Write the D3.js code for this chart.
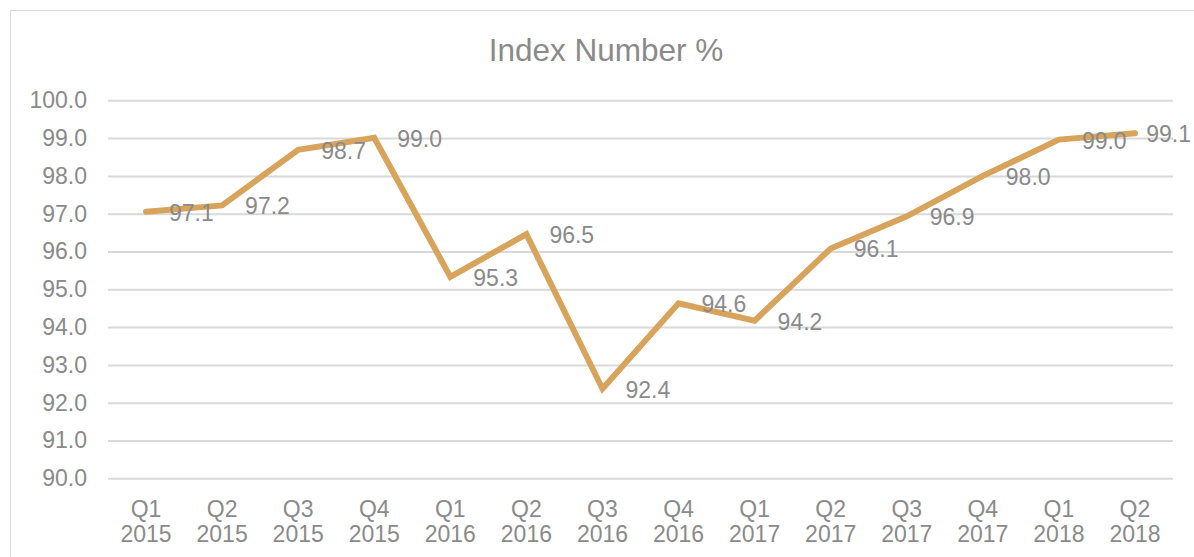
<!DOCTYPE html>
<html>
<head>
<meta charset="utf-8">
<script src="https://cdn.jsdelivr.net/npm/d3@7"></script>
<style>
  body { margin: 0; background: #fff; }
  text { font-family: "Liberation Sans", Arial, sans-serif; }
</style>
</head>
<body>
<div id="chart"></div>
<script>
// data
var quarters = ["Q1", "Q2", "Q3", "Q4", "Q1", "Q2", "Q3", "Q4", "Q1", "Q2", "Q3", "Q4", "Q1", "Q2"];
var years = ["2015", "2015", "2015", "2015", "2016", "2016", "2016", "2016", "2017", "2017", "2017", "2017", "2018", "2018"];
var values = [97.05, 97.22, 98.69, 99.01, 95.33, 96.46, 92.37, 94.63, 94.17, 96.08, 96.93, 98.0, 98.96, 99.13];
var labels = ["97.1", "97.2", "98.7", "99.0", "95.3", "96.5", "92.4", "94.6", "94.2", "96.1", "96.9", "98.0", "99.0", "99.1"];
var yTicks = [90, 91, 92, 93, 94, 95, 96, 97, 98, 99, 100];

var width = 1194;
var height = 557;
var margin = {top: 100, right: 21, bottom: 79, left: 108};
var textColor = "#8a8a8a";
var lineColor = "#d8a45c";
var fs = 23;

var svg = d3.select("#chart")
      .append("svg")
      .attr("width", width)
      .attr("height", height);

// chart border (right and bottom edges run past the picture)
svg.append("rect")
   .attr("x", 10.5)
   .attr("y", 10.5)
   .attr("width", 1200)
   .attr("height", 560)
   .attr("fill", "none")
   .attr("stroke", "#d9d9d9")
   .attr("stroke-width", 1);

svg.append("text")
   .attr("x", 606)
   .attr("y", 61)
   .attr("text-anchor", "middle")
   .attr("font-size", 31.5)
   .attr("fill", textColor)
   .text("Index Number %");

var idx = d3.range(values.length);

var x = d3.scaleBand()
    .domain(idx)
    .range([margin.left, width - margin.right]);

var y = d3.scaleLinear()
    .domain([90, 100])
    .range([478.3, 100.3]);

// gridlines + y labels
var yAxis = svg.append("g")
   .attr("transform", "translate(" + margin.left + ",0)")
   .call(d3.axisLeft(y)
      .tickValues(yTicks)
      .tickSize(-(width - margin.right - margin.left))
      .tickPadding(21)
      .tickFormat(d3.format(".1f")));
yAxis.select(".domain").remove();
yAxis.selectAll(".tick line").attr("stroke", "#d9d9d9").attr("stroke-width", 2);
yAxis.selectAll(".tick text")
     .attr("font-size", fs)
     .attr("font-family", "Liberation Sans, Arial, sans-serif")
     .attr("fill", textColor);

// x labels, two lines
var xAxis = svg.append("g")
   .attr("transform", "translate(0," + y(90) + ")")
   .call(d3.axisBottom(x).tickSize(0).tickFormat(""));
xAxis.select(".domain").remove();
xAxis.selectAll(".tick").each(function(d) {
  var t = d3.select(this).append("text")
      .attr("text-anchor", "middle")
      .attr("font-size", fs)
      .attr("font-family", "Liberation Sans, Arial, sans-serif")
      .attr("fill", textColor);
  t.append("tspan").attr("x", 0).attr("y", 39).text(quarters[d]);
  t.append("tspan").attr("x", 0).attr("y", 64).text(years[d]);
});

var line = d3.line()
    .x(function(d, i) { return x(i) + x.bandwidth() / 2; })
    .y(function(d) { return y(d); });

svg.append("path")
   .datum(values)
   .attr("d", line)
   .attr("fill", "none")
   .attr("stroke", lineColor)
   .attr("stroke-width", 6)
   .attr("stroke-linejoin", "miter")
   .attr("stroke-linecap", "round");

svg.selectAll(".lbl")
   .data(values)
   .enter()
   .append("text")
   .attr("class", "lbl")
   .attr("x", function(d, i) { return x(i) + x.bandwidth() / 2 + 23; })
   .attr("y", function(d) { return y(d) + 9; })
   .attr("font-size", fs)
   .attr("fill", textColor)
   .text(function(d, i) { return labels[i]; })
   .each(function() {
     // keep the label inside the picture, like the reference does
     var w = this.getComputedTextLength();
     var lx = +d3.select(this).attr("x");
     if (lx + w > width - 3) d3.select(this).attr("x", width - 3 - w);
   });
</script>
</body>
</html>
